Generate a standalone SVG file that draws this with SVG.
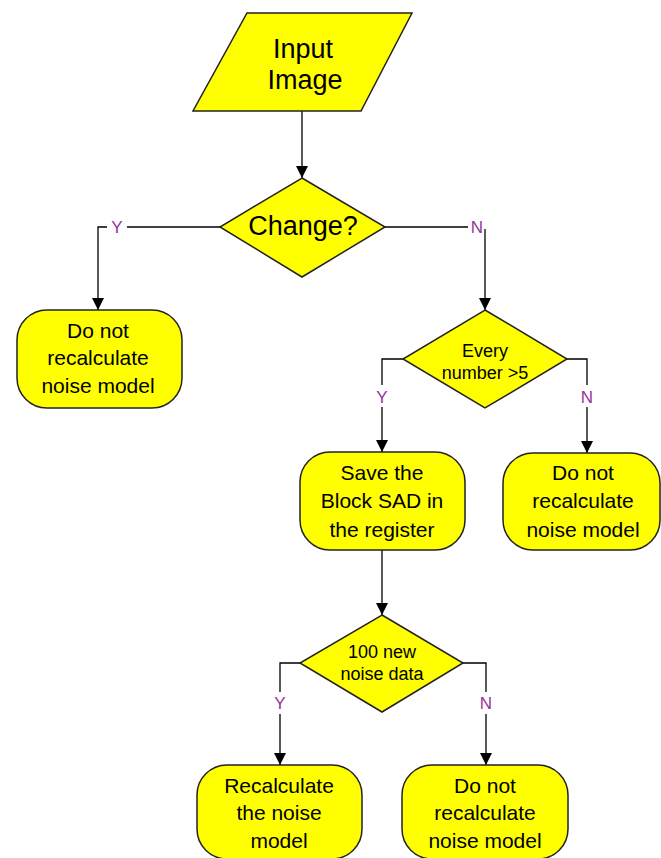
<svg xmlns="http://www.w3.org/2000/svg" width="661" height="858" viewBox="0 0 661 858">
  <style>
    .shape { fill: #ffff00; stroke: #222; stroke-width: 1.5; }
    .txt { font-family: "Liberation Sans", Arial, sans-serif; fill: #000; text-anchor: middle; }
    .big { font-size: 27px; }
    .box { font-size: 21px; }
    .dec { font-size: 18px; }
    .lbl { font-family: "Liberation Sans", Arial, sans-serif; font-size: 17px; fill: #993399; text-anchor: middle; }
    .wire { fill: none; stroke: #000; stroke-width: 1.3; }
  </style>
  <defs>
    <marker id="arrow" markerUnits="userSpaceOnUse" markerWidth="12" markerHeight="12" refX="12" refY="6" orient="auto">
      <path d="M0,0 L12,6 L0,12 z" fill="#000"/>
    </marker>
  </defs>
  <rect width="661" height="858" fill="#fff"/>

  <!-- connectors -->
  <g id="connectors">
    <path class="wire" d="M302,111 V178" marker-end="url(#arrow)"/>
    <path class="wire" d="M220,227 H127"/>
    <path class="wire" d="M107,227 H98 V310" marker-end="url(#arrow)"/>
    <path class="wire" d="M385,227 H468"/>
    <path class="wire" d="M485,229 V310" marker-end="url(#arrow)"/>
    <path class="wire" d="M403,359 H382 V385"/>
    <path class="wire" d="M382,407 V452" marker-end="url(#arrow)"/>
    <path class="wire" d="M567,359 H587 V385"/>
    <path class="wire" d="M587,407 V453" marker-end="url(#arrow)"/>
    <path class="wire" d="M382,550 V615" marker-end="url(#arrow)"/>
    <path class="wire" d="M300,663 H280 V692"/>
    <path class="wire" d="M280,714 V765" marker-end="url(#arrow)"/>
    <path class="wire" d="M463,663 H486 V692"/>
    <path class="wire" d="M486,714 V765" marker-end="url(#arrow)"/>
    <text class="lbl" x="117" y="233">Y</text>
    <text class="lbl" x="477" y="233">N</text>
    <text class="lbl" x="382" y="403">Y</text>
    <text class="lbl" x="587" y="403">N</text>
    <text class="lbl" x="280" y="709">Y</text>
    <text class="lbl" x="486" y="709">N</text>
  </g>

  <g id="input">
    <polygon class="shape" points="247,13 412,13 361,111 193,111"/>
    <text class="txt big" x="303" y="58">Input</text>
    <text class="txt big" x="305" y="89">Image</text>
  </g>

  <g id="change">
    <polygon class="shape" points="302,178 385,227 302,277 220,227"/>
    <text class="txt big" x="303" y="235">Change?</text>
  </g>

  <g id="keep1">
    <rect class="shape" x="17" y="310" width="165" height="98" rx="30" ry="30"/>
    <text class="txt box" x="98" y="338">Do not</text>
    <text class="txt box" x="98" y="365">recalculate</text>
    <text class="txt box" x="98" y="393">noise model</text>
  </g>

  <g id="every">
    <polygon class="shape" points="485,310 567,359 485,408 403,359"/>
    <text class="txt dec" x="485" y="357">Every</text>
    <text class="txt dec" x="485" y="379">number &gt;5</text>
  </g>

  <g id="save">
    <rect class="shape" x="300" y="452" width="165" height="98" rx="30" ry="30"/>
    <text class="txt box" x="382" y="480">Save the</text>
    <text class="txt box" x="382" y="508">Block SAD in</text>
    <text class="txt box" x="382" y="537">the register</text>
  </g>

  <g id="keep2">
    <rect class="shape" x="503" y="453" width="157" height="97" rx="30" ry="30"/>
    <text class="txt box" x="583" y="480">Do not</text>
    <text class="txt box" x="583" y="508">recalculate</text>
    <text class="txt box" x="583" y="537">noise model</text>
  </g>

  <g id="hundred">
    <polygon class="shape" points="382,615 463,663 382,712 300,663"/>
    <text class="txt dec" x="382" y="658">100 new</text>
    <text class="txt dec" x="382" y="680">noise data</text>
  </g>

  <g id="recalc">
    <rect class="shape" x="197" y="765" width="165" height="94" rx="30" ry="30"/>
    <text class="txt box" x="279" y="793">Recalculate</text>
    <text class="txt box" x="279" y="820">the noise</text>
    <text class="txt box" x="279" y="848">model</text>
  </g>

  <g id="keep3">
    <rect class="shape" x="402" y="765" width="166" height="94" rx="30" ry="30"/>
    <text class="txt box" x="485" y="793">Do not</text>
    <text class="txt box" x="485" y="820">recalculate</text>
    <text class="txt box" x="485" y="848">noise model</text>
  </g>
</svg>
